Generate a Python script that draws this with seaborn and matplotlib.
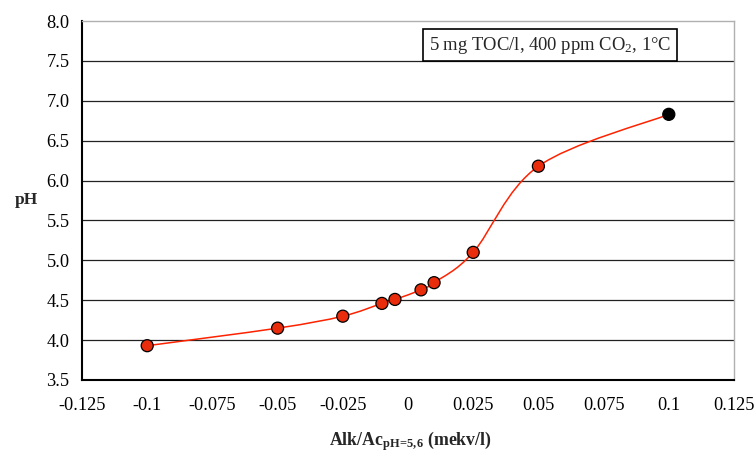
import numpy as np
import pandas as pd
import matplotlib
matplotlib.use("Agg")
import matplotlib.pyplot as plt
from matplotlib.path import Path
from matplotlib.patches import PathPatch
import seaborn as sns

# Data
alk = [-0.1, -0.05, -0.025, -0.01, -0.005, 0.005, 0.01, 0.025, 0.05, 0.1]
ph = [3.93, 4.15, 4.30, 4.46, 4.51, 4.63, 4.72, 5.10, 6.18, 6.83]
kind = ["meas"] * 9 + ["end"]
xticks = [-0.125, -0.1, -0.075, -0.05, -0.025, 0, 0.025, 0.05, 0.075, 0.1, 0.125]
xticklabels = ["-0.125", "-0.1", "-0.075", "-0.05", "-0.025", "0", "0.025", "0.05", "0.075", "0.1", "0.125"]
yticks = [3.5, 4.0, 4.5, 5.0, 5.5, 6.0, 6.5, 7.0, 7.5, 8.0]

df = pd.DataFrame({"alk": alk, "ph": ph, "kind": kind})

sns.set_theme(style="white")
plt.rcParams["font.family"] = ["Liberation Serif", "DejaVu Serif"]
plt.rcParams["mathtext.fontset"] = "custom"
plt.rcParams["mathtext.rm"] = "Liberation Serif"
plt.rcParams["mathtext.it"] = "Liberation Serif:italic"
plt.rcParams["mathtext.bf"] = "Liberation Serif:bold"

fig = plt.figure(figsize=(7.55, 4.54), dpi=100)
ax = fig.add_axes([82 / 755, 74 / 454, (734 - 82) / 755, (380 - 21) / 454])

ax.set_xlim(-0.125, 0.125)
ax.set_ylim(3.5, 8.0)

# horizontal gridlines
for y in yticks[1:-1]:
    ax.axhline(y, color="#222222", lw=0.9, zorder=1)

# smoothed line (Excel-like cubic Bezier through the points, drawn in screen space)
pts = ax.transData.transform(np.column_stack([alk, ph]))
n = len(pts)
verts = [pts[0]]
codes = [Path.MOVETO]
for i in range(n - 1):
    p0 = pts[i - 1] if i > 0 else pts[i]
    p1 = pts[i]
    p2 = pts[i + 1]
    p3 = pts[i + 2] if i + 2 < n else pts[i + 1]
    c1 = p1 + (p2 - p0) / 6.0
    c2 = p2 - (p3 - p1) / 6.0
    verts += [c1, c2, p2]
    codes += [Path.CURVE4] * 3
path = Path(verts, codes)
patch = PathPatch(path, transform=None, facecolor="none", edgecolor="#FF2200", lw=1.1, zorder=2)
ax.add_artist(patch)

sns.scatterplot(data=df, x="alk", y="ph", hue="kind",
                palette={"meas": "#E82C0C", "end": "#000000"},
                s=75, edgecolor="black", linewidth=0.9, legend=False, ax=ax, zorder=3)

ax.set_xticks(xticks)
ax.set_xticklabels(xticklabels)
ax.set_yticks(yticks)
ax.set_yticklabels([f"{v:.1f}" for v in yticks])
ax.tick_params(axis="both", labelsize=13.2, colors="black", direction="out", length=5, width=1.2)
ax.tick_params(axis="x", length=4, pad=8)
ax.tick_params(axis="y", pad=4)

for s in ["left", "bottom"]:
    ax.spines[s].set_color("black")
    ax.spines[s].set_linewidth(1.5)
for s in ["top", "right"]:
    ax.spines[s].set_color("#B0B0B0")
    ax.spines[s].set_linewidth(1.0)

ax.set_xlabel(r"Alk/Ac$_{\mathbf{pH\!=\!5,\!6}}$ (mekv/l)", fontsize=12.8, fontweight="bold")
ax.xaxis.set_label_coords((410 - 82) / 652, -(441 - 380) / 359)
ax.xaxis.label.set_va("center")
ax.set_ylabel("pH", fontsize=12.5, fontweight="bold", rotation=0)
ax.yaxis.set_label_coords(-(82 - 26) / 652, 0.5)
ax.yaxis.label.set_va("center")
ax.yaxis.label.set_ha("center")

ax.text((429 - 82) / 652, (380 - 45) / 359, r"5 mg TOC/l, 400 ppm CO$_2$, 1°C", transform=ax.transAxes,
        fontsize=13.4, ha="left", va="center",
        bbox=dict(boxstyle="square,pad=0.3", facecolor="white", edgecolor="black", lw=1.2))

fig.savefig("out.png", dpi=100)
